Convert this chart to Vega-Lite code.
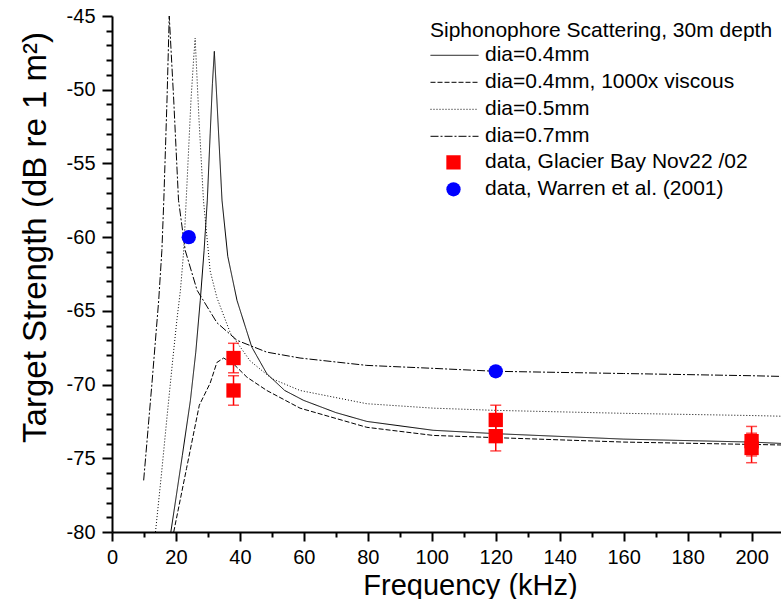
{
  "$schema": "https://vega.github.io/schema/vega-lite/v6.json",
  "width": 669,
  "height": 516,
  "autosize": {"type": "none"},
  "padding": {"left": 112, "top": 16, "right": 0, "bottom": 67},
  "background": "white",
  "config": {
    "view": {"stroke": null},
    "font": "Liberation Sans",
    "axis": {
      "domainColor": "black",
      "domainWidth": 2,
      "tickColor": "black",
      "tickWidth": 2,
      "labelColor": "black",
      "labelFont": "Liberation Sans",
      "labelFontSize": 20,
      "labelFlush": false,
      "labelOverlap": false,
      "titleFont": "Liberation Sans",
      "titleFontSize": 29,
      "titleFontWeight": "normal",
      "titleColor": "black",
      "grid": false
    },
    "legend": {"symbolOpacity": 1}
  },
  "datasets": {
    "curves": [
      {"f": 18.4, "ts": -80, "s": "dia=0.4mm"},
      {"f": 20, "ts": -77.7, "s": "dia=0.4mm"},
      {"f": 22, "ts": -74.8, "s": "dia=0.4mm"},
      {"f": 24.5, "ts": -71.1, "s": "dia=0.4mm"},
      {"f": 26.2, "ts": -67.8, "s": "dia=0.4mm"},
      {"f": 27.6, "ts": -64.3, "s": "dia=0.4mm"},
      {"f": 28.8, "ts": -60.9, "s": "dia=0.4mm"},
      {"f": 29.8, "ts": -57.5, "s": "dia=0.4mm"},
      {"f": 30.7, "ts": -53, "s": "dia=0.4mm"},
      {"f": 31.4, "ts": -49.6, "s": "dia=0.4mm"},
      {"f": 32, "ts": -47.4, "s": "dia=0.4mm"},
      {"f": 32.8, "ts": -50.7, "s": "dia=0.4mm"},
      {"f": 34.4, "ts": -57.5, "s": "dia=0.4mm"},
      {"f": 36.2, "ts": -61.3, "s": "dia=0.4mm"},
      {"f": 39.1, "ts": -64.3, "s": "dia=0.4mm"},
      {"f": 43.7, "ts": -67.45, "s": "dia=0.4mm"},
      {"f": 48.4, "ts": -69.26, "s": "dia=0.4mm"},
      {"f": 54, "ts": -70.4, "s": "dia=0.4mm"},
      {"f": 59.9, "ts": -71.07, "s": "dia=0.4mm"},
      {"f": 70, "ts": -71.9, "s": "dia=0.4mm"},
      {"f": 79.7, "ts": -72.5, "s": "dia=0.4mm"},
      {"f": 100.4, "ts": -73.1, "s": "dia=0.4mm"},
      {"f": 120, "ts": -73.33, "s": "dia=0.4mm"},
      {"f": 160, "ts": -73.7, "s": "dia=0.4mm"},
      {"f": 200, "ts": -73.9, "s": "dia=0.4mm"},
      {"f": 210, "ts": -74.0, "s": "dia=0.4mm"},

      {"f": 19.3, "ts": -80, "s": "dia=0.4mm, 1000x viscous"},
      {"f": 23.3, "ts": -75.7, "s": "dia=0.4mm, 1000x viscous"},
      {"f": 27.3, "ts": -71.4, "s": "dia=0.4mm, 1000x viscous"},
      {"f": 30.7, "ts": -69.9, "s": "dia=0.4mm, 1000x viscous"},
      {"f": 32.8, "ts": -68.5, "s": "dia=0.4mm, 1000x viscous"},
      {"f": 34.9, "ts": -68.2, "s": "dia=0.4mm, 1000x viscous"},
      {"f": 38, "ts": -68.6, "s": "dia=0.4mm, 1000x viscous"},
      {"f": 42.2, "ts": -69.5, "s": "dia=0.4mm, 1000x viscous"},
      {"f": 48.4, "ts": -70.4, "s": "dia=0.4mm, 1000x viscous"},
      {"f": 58.8, "ts": -71.6, "s": "dia=0.4mm, 1000x viscous"},
      {"f": 79.7, "ts": -72.9, "s": "dia=0.4mm, 1000x viscous"},
      {"f": 100.5, "ts": -73.45, "s": "dia=0.4mm, 1000x viscous"},
      {"f": 120, "ts": -73.6, "s": "dia=0.4mm, 1000x viscous"},
      {"f": 160, "ts": -73.9, "s": "dia=0.4mm, 1000x viscous"},
      {"f": 200, "ts": -74.06, "s": "dia=0.4mm, 1000x viscous"},
      {"f": 210, "ts": -74.1, "s": "dia=0.4mm, 1000x viscous"},

      {"f": 13.6, "ts": -80, "s": "dia=0.5mm"},
      {"f": 15.5, "ts": -76, "s": "dia=0.5mm"},
      {"f": 17.2, "ts": -72.2, "s": "dia=0.5mm"},
      {"f": 19, "ts": -68.3, "s": "dia=0.5mm"},
      {"f": 20.3, "ts": -65.6, "s": "dia=0.5mm"},
      {"f": 21.4, "ts": -63.6, "s": "dia=0.5mm"},
      {"f": 22.4, "ts": -61, "s": "dia=0.5mm"},
      {"f": 23.2, "ts": -57.5, "s": "dia=0.5mm"},
      {"f": 24.7, "ts": -50.7, "s": "dia=0.5mm"},
      {"f": 25.5, "ts": -48, "s": "dia=0.5mm"},
      {"f": 26, "ts": -46.5, "s": "dia=0.5mm"},
      {"f": 27.2, "ts": -52, "s": "dia=0.5mm"},
      {"f": 28.6, "ts": -57.5, "s": "dia=0.5mm"},
      {"f": 30.7, "ts": -62.3, "s": "dia=0.5mm"},
      {"f": 32.8, "ts": -64.1, "s": "dia=0.5mm"},
      {"f": 37, "ts": -66.5, "s": "dia=0.5mm"},
      {"f": 43.2, "ts": -68.4, "s": "dia=0.5mm"},
      {"f": 50, "ts": -69.6, "s": "dia=0.5mm"},
      {"f": 58.8, "ts": -70.4, "s": "dia=0.5mm"},
      {"f": 79.7, "ts": -71.3, "s": "dia=0.5mm"},
      {"f": 100.5, "ts": -71.6, "s": "dia=0.5mm"},
      {"f": 120, "ts": -71.75, "s": "dia=0.5mm"},
      {"f": 160, "ts": -71.95, "s": "dia=0.5mm"},
      {"f": 200, "ts": -72.1, "s": "dia=0.5mm"},
      {"f": 210, "ts": -72.15, "s": "dia=0.5mm"},

      {"f": 9.9, "ts": -76.5, "s": "dia=0.7mm"},
      {"f": 12.5, "ts": -69.9, "s": "dia=0.7mm"},
      {"f": 14.6, "ts": -64.3, "s": "dia=0.7mm"},
      {"f": 15.6, "ts": -60.9, "s": "dia=0.7mm"},
      {"f": 16.2, "ts": -57.5, "s": "dia=0.7mm"},
      {"f": 17.2, "ts": -50.7, "s": "dia=0.7mm"},
      {"f": 17.9, "ts": -45, "s": "dia=0.7mm"},
      {"f": 19.3, "ts": -50.7, "s": "dia=0.7mm"},
      {"f": 20.8, "ts": -57.5, "s": "dia=0.7mm"},
      {"f": 22.9, "ts": -60.9, "s": "dia=0.7mm"},
      {"f": 26.6, "ts": -63.6, "s": "dia=0.7mm"},
      {"f": 32.8, "ts": -65.8, "s": "dia=0.7mm"},
      {"f": 39.1, "ts": -67, "s": "dia=0.7mm"},
      {"f": 48.4, "ts": -67.8, "s": "dia=0.7mm"},
      {"f": 58.8, "ts": -68.2, "s": "dia=0.7mm"},
      {"f": 79.7, "ts": -68.7, "s": "dia=0.7mm"},
      {"f": 100.5, "ts": -68.9, "s": "dia=0.7mm"},
      {"f": 120, "ts": -69.1, "s": "dia=0.7mm"},
      {"f": 160, "ts": -69.25, "s": "dia=0.7mm"},
      {"f": 200, "ts": -69.4, "s": "dia=0.7mm"},
      {"f": 210, "ts": -69.45, "s": "dia=0.7mm"}
    ],
    "points": [
      {"f": 38, "ts": -68.2, "lo": -69.2, "hi": -67.2, "d": "data, Glacier Bay Nov22 /02"},
      {"f": 38, "ts": -70.4, "lo": -71.4, "hi": -69.4, "d": "data, Glacier Bay Nov22 /02"},
      {"f": 120, "ts": -72.4, "lo": -73.4, "hi": -71.4, "d": "data, Glacier Bay Nov22 /02"},
      {"f": 120, "ts": -73.5, "lo": -74.5, "hi": -72.5, "d": "data, Glacier Bay Nov22 /02"},
      {"f": 200, "ts": -73.84, "lo": -74.84, "hi": -72.84, "d": "data, Glacier Bay Nov22 /02"},
      {"f": 200, "ts": -74.3, "lo": -75.3, "hi": -73.3, "d": "data, Glacier Bay Nov22 /02"},
      {"f": 24, "ts": -60, "d": "data, Warren et al. (2001)"},
      {"f": 120, "ts": -69.1, "d": "data, Warren et al. (2001)"}
    ]
  },
  "encoding": {
    "x": {
      "field": "f",
      "type": "quantitative",
      "scale": {"domain": [0, 209.2], "nice": false, "zero": false},
      "axis": {
        "title": "Frequency (kHz)",
        "values": [0, 10, 20, 30, 40, 50, 60, 70, 80, 90, 100, 110, 120, 130, 140, 150, 160, 170, 180, 190, 200],
        "labelExpr": "datum.value % 20 === 0 ? '' + datum.value : ''",
        "tickSize": {"condition": {"test": "datum.value % 20 === 0", "value": 9}, "value": 5},
        "labelPadding": 6,
        "titleX": 358,
        "titleY": 62,
        "titleBaseline": "alphabetic",
        "titleAlign": "center",
        "titlePadding": 0
      }
    },
    "y": {
      "field": "ts",
      "type": "quantitative",
      "scale": {"domain": [-80, -45], "nice": false, "zero": false},
      "axis": {
        "title": "Target Strength (dB re 1 m²)",
        "values": [-80, -79, -78, -77, -76, -75, -74, -73, -72, -71, -70, -69, -68, -67, -66, -65, -64, -63, -62, -61, -60, -59, -58, -57, -56, -55, -54, -53, -52, -51, -50, -49, -48, -47, -46, -45],
        "labelExpr": "datum.value % 5 === 0 ? '' + datum.value : ''",
        "tickSize": {"condition": {"test": "datum.value % 5 === 0", "value": 10}, "value": 6},
        "labelPadding": 7,
        "titleY": 221,
        "titleFontSize": 33,
        "titlePadding": 14
      }
    }
  },
  "layer": [
    {
      "data": {"name": "curves"},
      "mark": {"type": "line", "color": "black", "strokeWidth": 1, "clip": true},
      "encoding": {
        "strokeDash": {
          "field": "s",
          "type": "nominal",
          "scale": {
            "domain": ["dia=0.4mm", "dia=0.4mm, 1000x viscous", "dia=0.5mm", "dia=0.7mm"],
            "range": [[1, 0], [5, 2], [1, 2], [8, 2, 2, 2]]
          },
          "legend": {
            "title": "Siphonophore Scattering, 30m depth",
            "orient": "none",
            "legendX": 318,
            "legendY": 4,
            "padding": 0,
            "symbolType": "stroke",
            "symbolSize": 2304,
            "symbolStrokeWidth": 1,
            "symbolStrokeColor": "black",
            "clipHeight": 26.6,
            "rowPadding": 0,
            "labelOffset": 6,
            "titlePadding": 1,
            "titleFontSize": 21,
            "titleFontWeight": "normal",
            "titleColor": "black",
            "titleFont": "Liberation Sans",
            "labelFontSize": 21,
            "labelColor": "black",
            "labelFont": "Liberation Sans",
            "labelLimit": 0,
            "titleLimit": 0
          }
        }
      }
    },
    {
      "data": {"name": "points"},
      "transform": [{"filter": "datum.lo != null"}],
      "mark": {"type": "rule", "color": "#ff0000", "strokeWidth": 1.5},
      "encoding": {"y": {"field": "lo", "type": "quantitative"}, "y2": {"field": "hi"}}
    },
    {
      "data": {"name": "points"},
      "transform": [{"filter": "datum.lo != null"}],
      "mark": {"type": "tick", "orient": "horizontal", "color": "#ff0000", "size": 11, "thickness": 1.5},
      "encoding": {"y": {"field": "lo", "type": "quantitative"}}
    },
    {
      "data": {"name": "points"},
      "transform": [{"filter": "datum.lo != null"}],
      "mark": {"type": "tick", "orient": "horizontal", "color": "#ff0000", "size": 11, "thickness": 1.5},
      "encoding": {"y": {"field": "hi", "type": "quantitative"}}
    },
    {
      "data": {"name": "points"},
      "mark": {"type": "point", "filled": true, "opacity": 1, "size": 205, "strokeWidth": 0},
      "encoding": {
        "color": {
          "field": "d",
          "type": "nominal",
          "scale": {"domain": ["data, Glacier Bay Nov22 /02", "data, Warren et al. (2001)"], "range": ["#ff0000", "#0000ff"]},
          "legend": {
            "title": null,
            "orient": "none",
            "legendX": 331,
            "legendY": 133,
            "padding": 0,
            "symbolSize": 205,
            "clipHeight": 26.6,
            "rowPadding": 0,
            "labelOffset": 21,
            "labelFontSize": 21,
            "labelColor": "black",
            "labelFont": "Liberation Sans",
            "labelLimit": 0
          }
        },
        "shape": {
          "field": "d",
          "type": "nominal",
          "scale": {"domain": ["data, Glacier Bay Nov22 /02", "data, Warren et al. (2001)"], "range": ["square", "circle"]},
          "legend": {
            "title": null,
            "orient": "none",
            "legendX": 331,
            "legendY": 133,
            "padding": 0,
            "symbolSize": 205,
            "clipHeight": 26.6,
            "rowPadding": 0,
            "labelOffset": 21,
            "labelFontSize": 21,
            "labelColor": "black",
            "labelFont": "Liberation Sans",
            "labelLimit": 0
          }
        }
      }
    }
  ]
}
